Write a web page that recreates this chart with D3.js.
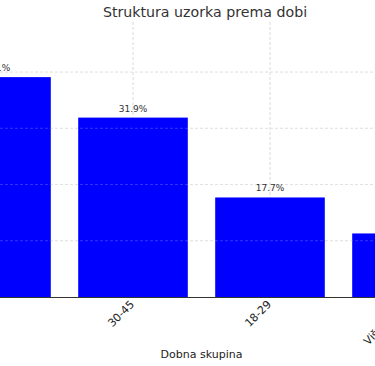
<!DOCTYPE html>
<html>
<head>
<meta charset="utf-8">
<script src="https://cdn.jsdelivr.net/npm/d3@7"></script>
<style>
  html, body { margin: 0; padding: 0; background: #fff; overflow: hidden; }
  svg { display: block; font-family: "DejaVu Sans", sans-serif; }
</style>
</head>
<body>
<svg id="chart" width="375" height="366"></svg>
<script>
const categories = ["46-60", "30-45", "18-29", "Više od 60"];
const values = [39.1, 31.9, 17.7, 11.3];
const yTicks = [10, 20, 30, 40];
const title = "Struktura uzorka prema dobi";
const xLabel = "Dobna skupina";

const svg = d3.select("#chart");
const x = d3.scaleBand().domain(categories).range([-72.5, 475.5]).paddingInner(0.2).paddingOuter(0.1);
const y = d3.scaleLinear().domain([0, 48.9]).range([297, 22]);
const left = -85, right = 488;

// horizontal grid
svg.append("g").selectAll("line").data(yTicks).join("line")
  .attr("x1", left).attr("x2", right)
  .attr("y1", d => y(d)).attr("y2", d => y(d))
  .attr("stroke", "#d0d0d0").attr("stroke-width", 0.8).attr("stroke-dasharray", "3,2");
// vertical grid
svg.append("g").selectAll("line").data(categories).join("line")
  .attr("x1", d => x(d) + x.bandwidth() / 2).attr("x2", d => x(d) + x.bandwidth() / 2)
  .attr("y1", y.range()[1]).attr("y2", y(0))
  .attr("stroke", "#d0d0d0").attr("stroke-width", 0.8).attr("stroke-dasharray", "3,2");

// bars
svg.append("g").selectAll("rect").data(categories).join("rect")
  .attr("x", d => x(d)).attr("width", x.bandwidth())
  .attr("y", (d, i) => y(values[i])).attr("height", (d, i) => y(0) - y(values[i]))
  .attr("fill", "#0000ff");

// faint grid over bars
svg.append("g").selectAll("line").data(yTicks).join("line")
  .attr("x1", left).attr("x2", right)
  .attr("y1", d => y(d)).attr("y2", d => y(d))
  .attr("stroke", "#ffffff").attr("stroke-opacity", 0.25).attr("stroke-width", 0.8).attr("stroke-dasharray", "3,2");

// value labels
svg.append("g").selectAll("text").data(categories).join("text")
  .attr("x", d => x(d) + x.bandwidth() / 2)
  .attr("y", (d, i) => y(values[i]) - 6)
  .attr("text-anchor", "middle").attr("font-size", 9).attr("fill", "#333")
  .text((d, i) => values[i].toFixed(1) + "%");

// x axis
const xAxis = d3.axisBottom(x).tickSize(0).tickPadding(0);
const gx = svg.append("g").attr("transform", `translate(0,${y(0)})`).call(xAxis);
gx.select(".domain").attr("d", `M${left},0.5H${right}`).attr("stroke", "#333").attr("stroke-width", 1);
gx.selectAll("text")
  .attr("font-family", "DejaVu Sans, sans-serif").attr("font-size", 11).attr("fill", "#222")
  .attr("text-anchor", "end").attr("dy", null).attr("y", 0)
  .attr("transform", "translate(2,8) rotate(-45)");

// title and axis label
svg.append("text").attr("x", 205).attr("y", 17).attr("text-anchor", "middle")
  .attr("font-size", 14.2).attr("fill", "#333").text(title);
svg.append("text").attr("x", 201.5).attr("y", 358).attr("text-anchor", "middle")
  .attr("font-size", 11).attr("fill", "#222").text(xLabel);
</script>
</body>
</html>
